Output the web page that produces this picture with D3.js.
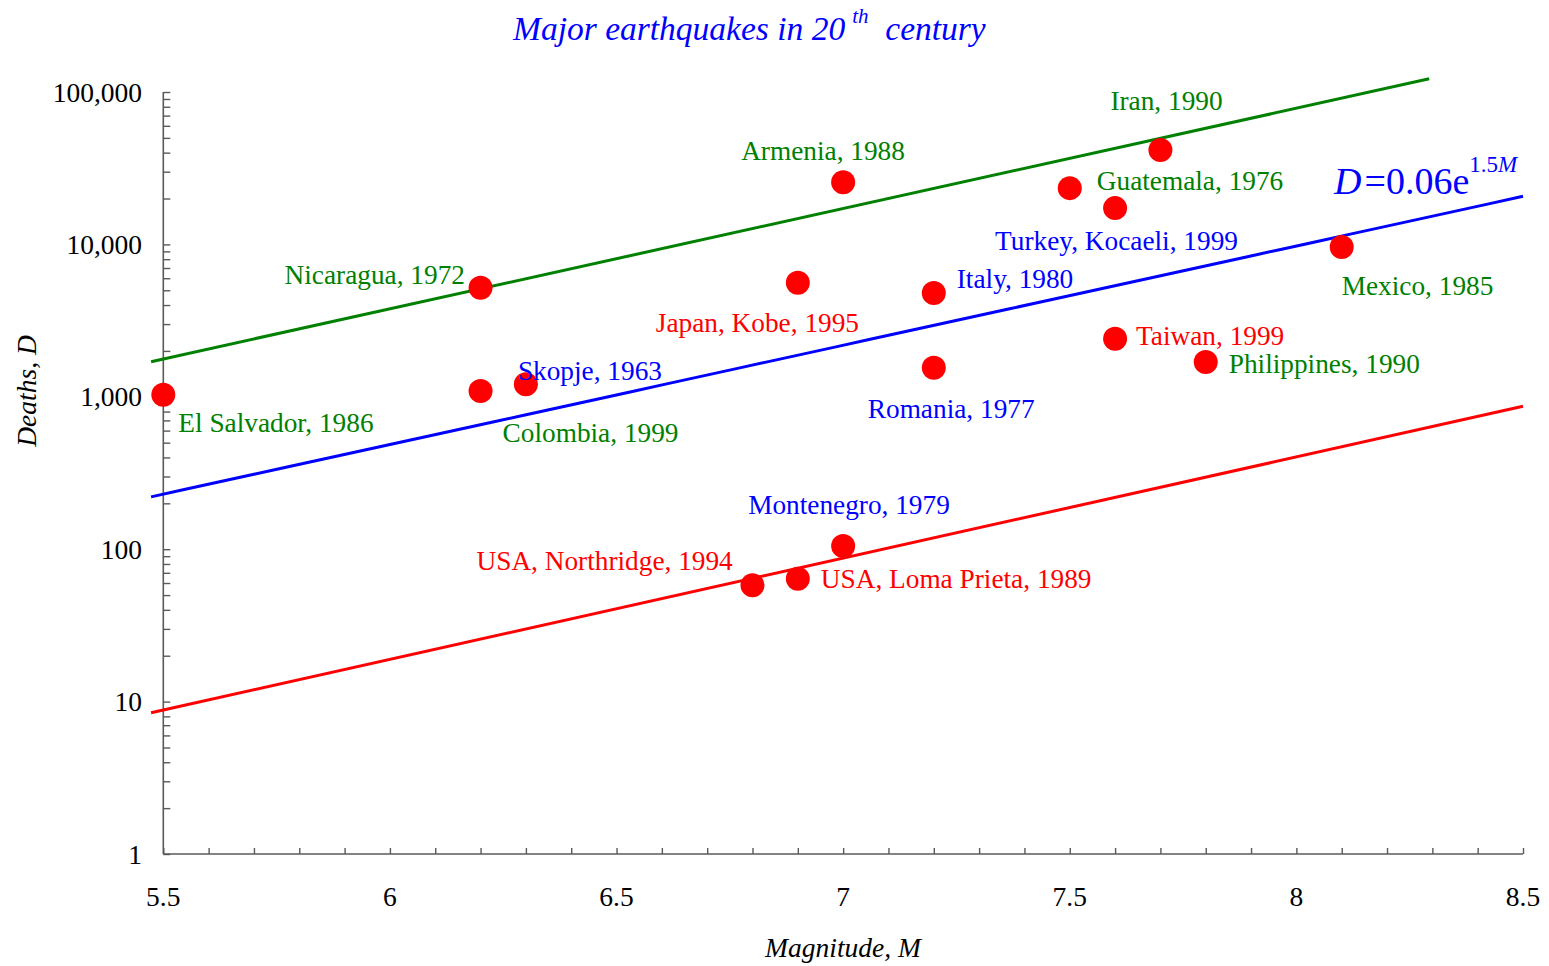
<!DOCTYPE html>
<html>
<head>
<meta charset="utf-8">
<script src="https://cdn.jsdelivr.net/npm/d3@7"></script>
<style>
  body { margin: 0; background: #fff; }
  svg { display: block; }
  text { font-family: "Liberation Serif", "Times New Roman", serif; }
</style>
</head>
<body>
<svg id="chart" width="1549" height="966"></svg>
<script>
// Major earthquakes of the 20th century: magnitude M and number of deaths D
const quakeNames = [
  "El Salvador, 1986", "Nicaragua, 1972", "Colombia, 1999", "Skopje, 1963",
  "Japan, Kobe, 1995", "Armenia, 1988", "Montenegro, 1979", "USA, Loma Prieta, 1989",
  "USA, Northridge, 1994", "Italy, 1980", "Romania, 1977", "Guatemala, 1976",
  "Turkey, Kocaeli, 1999", "Iran, 1990", "Taiwan, 1999", "Philippines, 1990", "Mexico, 1985"
];
const quakeMagnitudes = [5.5, 6.2, 6.2, 6.3, 6.9, 7.0, 7.0, 6.9, 6.8, 7.2, 7.2, 7.5, 7.6, 7.7, 7.6, 7.8, 8.1];
const quakeDeaths = [1030, 5200, 1090, 1210, 5600, 25600, 105, 64, 58, 4800, 1550, 23400, 17300, 41600, 2400, 1690, 9600];
// which band each label belongs to
const quakeGroups = ["high", "high", "high", "mid", "low", "high", "mid", "low",
  "low", "mid", "mid", "high", "mid", "high", "low", "high", "high"];

// Band lines, as (M, D) end points on the log chart
const highLine = [[5.473, 1700], [8.293, 122000]];
const lowLine = [[5.473, 8.46], [8.5, 866]];
// Central law D = 0.06 e^(1.5 M)
const lawCoef = 0.06;
const lawExp = 1.5;
const lawRange = [5.473, 8.5];

const xTickValues = [5.5, 6, 6.5, 7, 7.5, 8, 8.5];
const yTickValues = [1, 10, 100, 1000, 10000, 100000];

// ---------- layout ----------
const groupColor = { high: "#008000", mid: "#0000ff", low: "#ff0000" };
// label position relative to its point (start of text, baseline)
const labelOffsets = [
  [15, 37], [-196, -4], [22, 51], [-8, -4],
  [-142, 49], [-102, -22], [-95, -32], [23, 9],
  [-276, -15], [23, -5], [-66, 50], [27, 2],
  [-120, 42], [-50, -40], [21, 6], [23, 11], [0, 48]
];

const svg = d3.select("#chart");
const x = d3.scaleLinear().domain([5.5, 8.5]).range([163.3, 1523]);
const y = d3.scaleLog().domain([1, 100000]).range([854, 92]);

const axisColor = "#5a5a5a";

// ---------- axes ----------
const gx = svg.append("g").attr("transform", "translate(0,854)");
gx.call(d3.axisBottom(x).tickValues(d3.range(55, 86).map(v => v / 10)).tickSize(-6).tickFormat(""));
gx.select(".domain").attr("stroke", axisColor).attr("stroke-width", 1.6).attr("d", `M${x(5.5)},0H${x(8.5)}`);
gx.selectAll(".tick line").attr("stroke", axisColor).attr("stroke-width", 1.4);

svg.append("g").selectAll("text").data(xTickValues).join("text")
  .attr("x", d => x(d)).attr("y", 906)
  .attr("text-anchor", "middle").attr("font-size", 27.5).attr("fill", "#000")
  .text(d => d3.format("~g")(d));

const minorY = [];
for (let e = 0; e < 5; e++) for (let m = 1; m <= 9; m++) minorY.push(m * Math.pow(10, e));
minorY.push(100000);
const gy = svg.append("g").attr("transform", `translate(${x(5.5)},0)`);
gy.call(d3.axisLeft(y).tickValues(minorY).tickSize(-7).tickFormat(""));
gy.select(".domain").attr("stroke", axisColor).attr("stroke-width", 1.6).attr("d", `M0,${y(1)}V${y(100000)}`);
gy.selectAll(".tick line").attr("stroke", axisColor).attr("stroke-width", 1.4);

svg.append("g").selectAll("text").data(yTickValues).join("text")
  .attr("x", 142).attr("y", d => y(d) + 9.5)
  .attr("text-anchor", "end").attr("font-size", 27.5).attr("fill", "#000")
  .text(d => d3.format(",")(d));

// axis titles
svg.append("text")
  .attr("x", 843).attr("y", 957).attr("text-anchor", "middle")
  .attr("font-size", 27.5).attr("font-style", "italic").attr("fill", "#000")
  .text("Magnitude, M");
svg.append("text")
  .attr("transform", "translate(35.5,391) rotate(-90)").attr("text-anchor", "middle")
  .attr("font-size", 27.5).attr("font-style", "italic").attr("fill", "#000")
  .text("Deaths, D");

// ---------- title ----------
const title = svg.append("text")
  .attr("x", 513).attr("y", 40)
  .attr("font-size", 33.5).attr("font-style", "italic").attr("fill", "#0000ff");
title.append("tspan").text("Major earthquakes in 20");
title.append("tspan").attr("font-size", 21).attr("dx", 7).attr("dy", -17).text("th");
title.append("tspan").attr("dy", 17).text("\u00a0 century");

// ---------- lines ----------
const line = d3.line().x(d => x(d[0])).y(d => y(d[1]));
const lawPoints = d3.range(0, 41).map(i => {
  const m = lawRange[0] + (lawRange[1] - lawRange[0]) * i / 40;
  return [m, lawCoef * Math.exp(lawExp * m)];
});
svg.append("path").datum(highLine).attr("d", line)
  .attr("fill", "none").attr("stroke", groupColor.high).attr("stroke-width", 3);
svg.append("path").datum(lawPoints).attr("d", line)
  .attr("fill", "none").attr("stroke", groupColor.mid).attr("stroke-width", 3);
svg.append("path").datum(lowLine).attr("d", line)
  .attr("fill", "none").attr("stroke", groupColor.low).attr("stroke-width", 3);

// ---------- points ----------
const quakes = quakeNames.map((name, i) => ({
  name, m: quakeMagnitudes[i], d: quakeDeaths[i], group: quakeGroups[i], off: labelOffsets[i]
}));
svg.append("g").selectAll("circle").data(quakes).join("circle")
  .attr("cx", d => x(d.m)).attr("cy", d => y(d.d)).attr("r", 12)
  .attr("fill", "#ff0000");

svg.append("g").selectAll("text").data(quakes).join("text")
  .attr("x", d => x(d.m) + d.off[0]).attr("y", d => y(d.d) + d.off[1])
  .attr("font-size", 27.3).attr("fill", d => groupColor[d.group])
  .text(d => d.name);

// ---------- formula ----------
const formula = svg.append("text")
  .attr("x", 1334).attr("y", 194).attr("font-size", 38).attr("fill", "#0000ff");
formula.append("tspan").attr("font-style", "italic").text("D");
formula.append("tspan").attr("dx", 3).text("=0.06e");
formula.append("tspan").attr("font-size", 23).attr("dy", -22).text("1.5");
formula.append("tspan").attr("font-size", 23).attr("font-style", "italic").text("M");
</script>
</body>
</html>
